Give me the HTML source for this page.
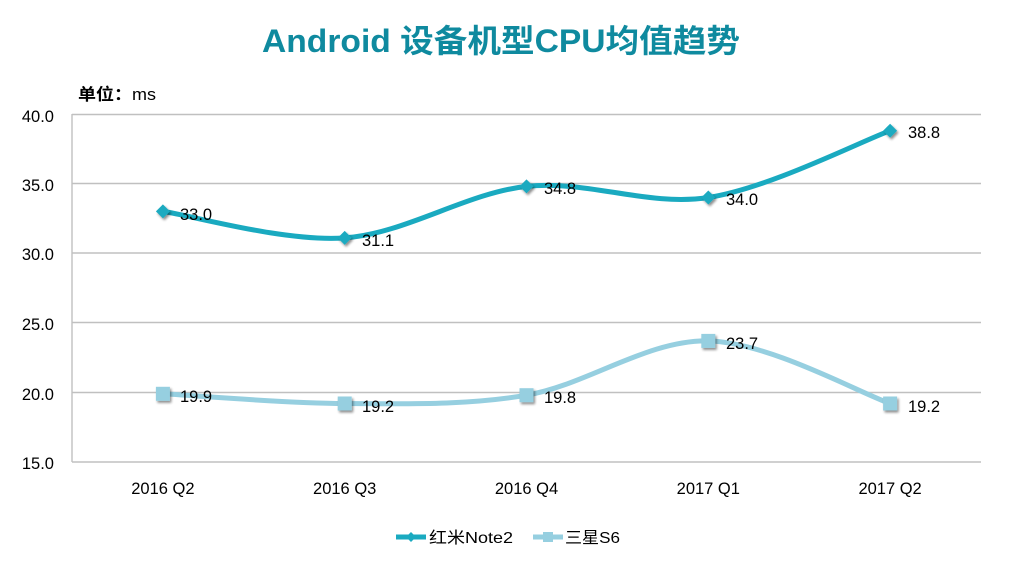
<!DOCTYPE html>
<html><head><meta charset="utf-8"><style>
html,body{margin:0;padding:0;background:#fff;}
svg{display:block;}
</style></head><body>
<svg width="1030" height="565" viewBox="0 0 1030 565" xmlns="http://www.w3.org/2000/svg">
<defs>
<filter id="sh" x="-50%" y="-50%" width="200%" height="200%">
<feGaussianBlur in="SourceAlpha" stdDeviation="1.2"/>
<feOffset dx="1.5" dy="2" result="o"/>
<feComponentTransfer><feFuncA type="linear" slope="0.45"/></feComponentTransfer>
<feMerge><feMergeNode/><feMergeNode in="SourceGraphic"/></feMerge>
</filter>
</defs>
<rect width="1030" height="565" fill="#fff"/>
<text x="501" y="52" text-anchor="middle" font-family="'Liberation Sans','Noto Sans CJK SC',sans-serif" font-weight="bold" font-size="32" fill="#0f8a9f" textLength="478" lengthAdjust="spacingAndGlyphs">Android 设备机型CPU均值趋势</text>
<text x="78" y="100" font-family="'Liberation Sans','Noto Sans CJK SC',sans-serif" font-size="16.5" fill="#000" textLength="78" lengthAdjust="spacingAndGlyphs"><tspan font-weight="bold">单位：</tspan>ms</text>
<g stroke="#c0c0c0" stroke-width="1.4" fill="none">
<line x1="72" y1="114.5" x2="981" y2="114.5"/>
<line x1="72" y1="183.5" x2="981" y2="183.5"/>
<line x1="72" y1="253" x2="981" y2="253"/>
<line x1="72" y1="322.5" x2="981" y2="322.5"/>
<line x1="72" y1="392.5" x2="981" y2="392.5"/>
<line x1="72" y1="462" x2="981" y2="462"/>
<line x1="72" y1="114" x2="72" y2="462"/>
</g>
<g font-family="'Liberation Sans',sans-serif" font-size="16.5" fill="#000" text-anchor="end">
<text x="54" y="122">40.0</text>
<text x="54" y="191">35.0</text>
<text x="54" y="260">30.0</text>
<text x="54" y="330">25.0</text>
<text x="54" y="400">20.0</text>
<text x="54" y="469">15.0</text>
</g>
<g font-family="'Liberation Sans',sans-serif" font-size="16.5" fill="#000" text-anchor="middle">
<text x="162.9" y="494">2016 Q2</text>
<text x="344.7" y="494">2016 Q3</text>
<text x="526.5" y="494">2016 Q4</text>
<text x="708.3" y="494">2017 Q1</text>
<text x="890.1" y="494">2017 Q2</text>
</g>
<path d="M162.9,211.4 C193.2,215.8 284.1,242.1 344.7,237.9 C405.3,233.7 465.9,193.1 526.5,186.4 C587.1,179.7 647.7,206.8 708.3,197.5 C768.9,188.2 859.8,141.8 890.1,130.7" fill="none" stroke="#1aaac0" stroke-width="5" stroke-linecap="round"/>
<path d="M162.9,393.8 C193.2,395.4 284.1,403.3 344.7,403.5 C405.3,403.7 465.9,405.6 526.5,395.2 C587.1,384.8 647.7,339.5 708.3,340.9 C768.9,342.3 859.8,393.1 890.1,403.5" fill="none" stroke="#96cfe0" stroke-width="5" stroke-linecap="round"/>
<g fill="#1aaac0" filter="url(#sh)">
<path d="M162.9,204.4 L169.9,211.4 L162.9,218.4 L155.9,211.4Z"/>
<path d="M344.7,230.9 L351.7,237.9 L344.7,244.9 L337.7,237.9Z"/>
<path d="M526.5,179.4 L533.5,186.4 L526.5,193.4 L519.5,186.4Z"/>
<path d="M708.3,190.5 L715.3,197.5 L708.3,204.5 L701.3,197.5Z"/>
<path d="M890.1,123.7 L897.1,130.7 L890.1,137.7 L883.1,130.7Z"/>
</g>
<g fill="#96cfe0" filter="url(#sh)">
<rect x="155.9" y="386.8" width="14" height="14"/>
<rect x="337.7" y="396.5" width="14" height="14"/>
<rect x="519.5" y="388.2" width="14" height="14"/>
<rect x="701.3" y="333.9" width="14" height="14"/>
<rect x="883.1" y="396.5" width="14" height="14"/>
</g>
<g font-family="'Liberation Sans',sans-serif" font-size="16.5" fill="#000">
<text x="180" y="220">33.0</text>
<text x="362" y="246">31.1</text>
<text x="544" y="194">34.8</text>
<text x="726" y="205">34.0</text>
<text x="908" y="138">38.8</text>
<text x="180" y="402">19.9</text>
<text x="362" y="412">19.2</text>
<text x="544" y="403">19.8</text>
<text x="726" y="349">23.7</text>
<text x="908" y="412">19.2</text>
</g>
<line x1="396" y1="537" x2="426" y2="537" stroke="#1aaac0" stroke-width="5"/>
<path d="M411,532 L416,537 L411,542 L406,537Z" fill="#1aaac0"/>
<line x1="533" y1="537" x2="563" y2="537" stroke="#96cfe0" stroke-width="5"/>
<rect x="543" y="532" width="10" height="10" fill="#96cfe0"/>
<g font-family="'Liberation Sans','Noto Sans CJK SC',sans-serif" font-size="16" fill="#000">
<text x="429" y="543" textLength="84" lengthAdjust="spacingAndGlyphs">红米Note2</text>
<text x="565" y="543" textLength="55" lengthAdjust="spacingAndGlyphs">三星S6</text>
</g>
</svg>
</body></html>
